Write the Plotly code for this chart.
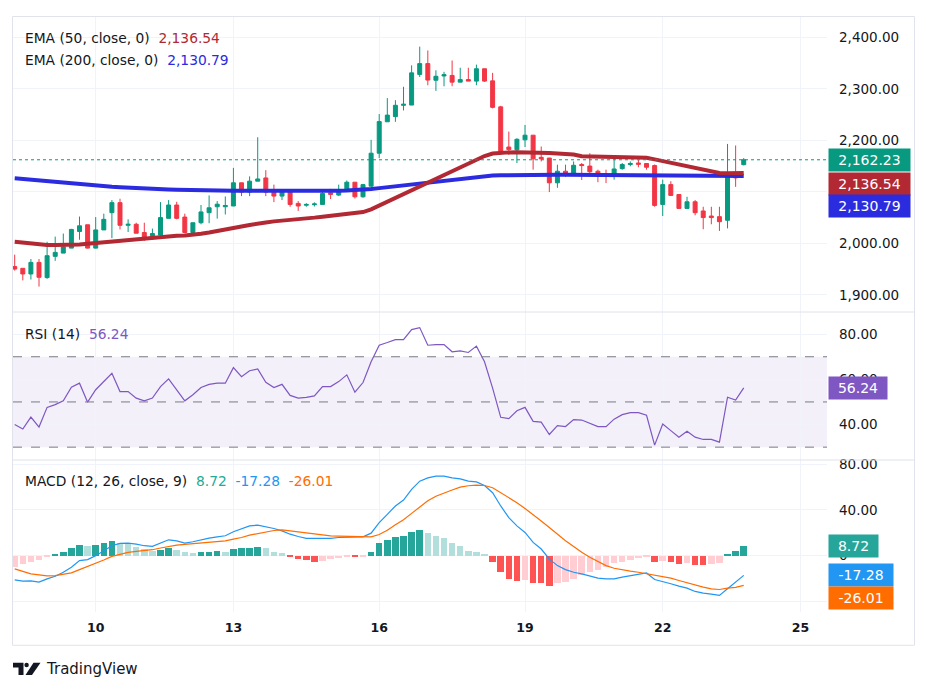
import plotly.graph_objects as go
from plotly.subplots import make_subplots

# ---------------- data ----------------
opens = [1955, 1951.5, 1940.5, 1963, 1933.5, 1974.7, 1981, 1990.7, 2023, 2036,
         1990.7, 2026, 2059.5, 2079, 2035, 2037, 2021, 2011, 2016, 2048.5,
         2074.4, 2051, 2021, 2040, 2059.5, 2071, 2071, 2072.5, 2117.5, 2099.5,
         2120.7, 2127, 2101, 2091.7, 2099.5, 2077.5, 2074, 2075, 2075.5, 2098,
         2093.7, 2102.5, 2118.7, 2090.4, 2111, 2175, 2236, 2246, 2268, 2268.5,
         2328, 2349, 2316.7, 2325, 2326, 2313, 2318, 2315, 2339, 2315.5,
         2265, 2187, 2181.6, 2201, 2210, 2167, 2165.6, 2117.5, 2140, 2135.5,
         2153, 2150, 2140, 2134, 2130, 2145, 2153, 2156, 2155, 2151,
         2075.5, 2114, 2094.8, 2067.8, 2080.7, 2062.8, 2053, 2051.8, 2044.7, 2135.4,
         2152.7]
highs = [1978, 1951.5, 1969.5, 1969.5, 2003, 2013, 2019, 2028, 2052, 2036,
         2051, 2057.6, 2084, 2086.5, 2046.6, 2040, 2040, 2028.6, 2080, 2084,
         2080.7, 2057.6, 2040, 2074.4, 2093, 2082, 2091, 2146.5, 2117.5, 2130,
         2206, 2142, 2114, 2104.5, 2104.5, 2082, 2078, 2079.5, 2099.5, 2105.8,
         2114, 2122, 2118.7, 2115.5, 2201, 2251, 2282, 2278, 2304, 2345.6,
         2382, 2374.5, 2336, 2333, 2355, 2341, 2341, 2347, 2339, 2331,
         2267, 2217, 2204, 2229.9, 2210, 2188, 2165.6, 2152.7, 2152.7, 2159,
         2156, 2175, 2143, 2143, 2165.6, 2156, 2159, 2162, 2155, 2153,
         2123.7, 2120.6, 2094.8, 2090.4, 2084, 2071, 2071, 2071, 2193, 2190,
         2165.6]
lows = [1947, 1928, 1929.7, 1916, 1931, 1966, 1981, 1990.7, 2007, 1990,
        1990, 2026, 2010, 2027, 2022, 2019.6, 2005, 2008, 2014.6, 2048.5,
        2046.6, 2019.6, 2019.6, 2037, 2039, 2048, 2056, 2072.5, 2091.7, 2091.7,
        2120.7, 2091.7, 2080, 2084, 2071, 2063, 2071, 2071.5, 2075.5, 2086,
        2091.7, 2101, 2087, 2088.5, 2109.7, 2165.6, 2236, 2236, 2258, 2268.5,
        2323, 2307, 2296, 2305, 2305, 2313, 2315, 2307, 2313.6, 2262,
        2172, 2172, 2156, 2187, 2143, 2159, 2099.5, 2107.8, 2129, 2133.4,
        2123, 2130.7, 2118.7, 2117, 2123.7, 2143, 2149.6, 2147.7, 2143, 2071,
        2053, 2093, 2067.8, 2067.8, 2054.4, 2027.3, 2037, 2024, 2029, 2109.7,
        2151.5]
closes = [1950, 1940.5, 1963, 1934, 1976, 1982.4, 1993, 2027, 2034, 1990.7,
          2026, 2046.6, 2079, 2035, 2037, 2019.6, 2011, 2019, 2050, 2074.4,
          2048.5, 2021, 2040, 2061, 2069, 2076, 2073.5, 2117.5, 2099.5, 2120.7,
          2125, 2099.5, 2091.7, 2099.5, 2075.5, 2072.5, 2075.5, 2076.5, 2096.8, 2095,
          2104.5, 2118.7, 2090.4, 2114, 2175, 2236.4, 2249, 2268, 2270, 2331,
          2349, 2317, 2324.4, 2327.5, 2313, 2318, 2315, 2339, 2315, 2264,
          2178.5, 2182, 2202, 2210, 2164, 2164, 2117.5, 2140, 2135.5, 2151.5,
          2151, 2139, 2132, 2132, 2144.4, 2153, 2155, 2153.5, 2147.7, 2073.6,
          2114, 2093, 2067.8, 2080.7, 2059.5, 2050, 2050, 2042, 2133.4, 2127,
          2162.23]
ema50 = [2003, 2001.3, 1999.7, 1998.2, 1996.8, 1996.6, 1996.5, 1997, 1997.8, 1999.2,
         2000.7, 2002.6, 2004.5, 2006, 2007.4, 2008.8, 2010.3, 2011.5, 2012.7, 2013.7,
         2014.6, 2015.3, 2016, 2018.5, 2021, 2023.4, 2025.8, 2029.1, 2032.5, 2035.6,
         2038.7, 2040.6, 2042.6, 2043.8, 2045, 2046.5, 2048, 2049.9, 2051.8, 2053.2,
         2054.7, 2056.6, 2058.6, 2060.7, 2066, 2073.4, 2080.7, 2088.5, 2095.8, 2103.1,
         2110.5, 2117.8, 2125.3, 2132.6, 2140, 2147.1, 2154.8, 2162.1, 2169.5, 2174.3,
         2176.2, 2176.6, 2176.8, 2176.8, 2176.6, 2176.2, 2175.6, 2174.5, 2173.5, 2172.6,
         2169, 2168.5, 2168, 2167.6, 2167.3, 2167, 2166.8, 2166.5, 2166, 2163,
         2159.8, 2156.3, 2153, 2149.5, 2146, 2142.3, 2139, 2136.5, 2136, 2136.3,
         2136.54]
ema200 = [2126.5, 2125, 2123.5, 2122, 2120.5, 2119, 2117.5, 2116, 2114.6, 2113.3,
          2112, 2111, 2110, 2109, 2108, 2107.1, 2106.3, 2105.6, 2105, 2104.4,
          2103.9, 2103.4, 2103, 2102.7, 2102.4, 2102.2, 2102.1, 2102, 2101.9, 2101.8,
          2101.7, 2101.6, 2101.6, 2101.6, 2101.6, 2101.6, 2101.7, 2101.8, 2101.9, 2102.1,
          2102.3, 2102.7, 2103.3, 2104.2, 2105.5, 2107.2, 2109, 2110.8, 2112.6, 2114.4,
          2116.2, 2118, 2120, 2122, 2124, 2126, 2127.7, 2129.2, 2130.5, 2131.5,
          2132.2, 2132.6, 2132.9, 2133.1, 2133.3, 2133.4, 2133.4, 2133.3, 2133.3, 2133.2,
          2133.2, 2133.1, 2133, 2132.9, 2132.9, 2132.8, 2132.8, 2132.7, 2132.6, 2132.3,
          2132.1, 2131.9, 2131.6, 2131.4, 2131.1, 2130.8, 2130.5, 2130.3, 2130.5, 2130.6,
          2130.79]
rsi = [40.0, 38.0, 43.3, 38.9, 47.6, 48.8, 50.5, 56.5, 58.3, 49.9,
       55.4, 59.0, 62.7, 54.6, 54.6, 51.7, 50.5, 51.7, 56.8, 60.2,
       55.4, 50.5, 53.2, 56.4, 57.8, 58.3, 58.3, 65.2, 61.2, 63.8,
       64.6, 58.7, 56.4, 57.8, 52.9, 51.7, 52.0, 52.7, 56.8, 56.8,
       59.0, 62.0, 54.3, 58.6, 67.8, 75.1, 76.3, 77.6, 77.6, 82.0,
       82.9, 75.1, 75.4, 75.4, 72.2, 72.6, 71.9, 74.7, 67.8, 56.1,
       43.2, 42.6, 46.1, 47.6, 41.4, 41.1, 35.6, 39.5, 39.1, 42.2,
       42.0, 40.4, 39.1, 39.1, 42.4, 44.4, 45.3, 45.3, 44.1, 30.9,
       40.2, 37.3, 34.4, 37.0, 34.4, 33.4, 33.4, 32.2, 52.1, 50.8,
       56.24]
macd = [-21.2, -22.3, -22.0, -23.2, -20.3, -18.0, -14.5, -10.1, -4.3, -3.5,
        0.0, 4.3, 8.7, 10.7, 11.0, 10.1, 8.7, 8.1, 10.7, 13.9,
        13.0, 11.0, 12.2, 13.9, 15.4, 16.5, 17.4, 20.9, 23.2, 26.1,
        26.7, 25.5, 23.8, 21.7, 18.8, 16.8, 15.1, 15.1, 15.1, 15.1,
        15.9, 16.2, 16.5, 16.5, 19.7, 29.0, 36.2, 43.5, 48.7, 58.0,
        65.2, 68.1, 69.6, 69.6, 68.1, 67.2, 65.2, 64.6, 61.4, 55.1,
        43.5, 33.3, 26.1, 20.3, 11.6, 5.8, -2.9, -8.7, -12.2, -14.5,
        -15.9, -18.0, -19.7, -20.3, -20.3, -18.8, -17.4, -15.9, -15.1, -20.9,
        -22.6, -24.6, -26.7, -28.4, -31.3, -32.8, -33.6, -34.8, -29.0, -23.2,
        -17.28]
signal = [-11.6, -13.9, -15.9, -16.8, -17.7, -17.4, -16.5, -15.1, -12.2, -9.6,
          -6.4, -3.8, -0.6, 1.4, 2.9, 3.8, 4.6, 5.2, 6.7, 8.1,
          9.3, 9.9, 10.4, 11.0, 11.6, 12.2, 13.0, 14.5, 15.9, 18.0,
          19.4, 20.9, 22.0, 22.6, 21.7, 20.9, 19.7, 18.8, 18.0, 17.4,
          17.1, 16.8, 16.8, 16.8, 16.5, 18.5, 22.3, 27.0, 31.5, 37.0,
          42.5, 48.0, 52.0, 55.0, 57.5, 60.0, 61.2, 61.7, 61.4, 59.4,
          55.1, 50.7, 46.4, 41.2, 36.2, 30.4, 24.6, 18.8, 13.0, 8.1,
          2.9, -1.4, -5.2, -8.7, -11.0, -12.5, -13.6, -14.5, -15.9, -16.8,
          -18.3, -19.7, -21.7, -23.8, -25.5, -27.5, -29.0, -29.6, -28.4, -27.8,
          -26.01]
hist = [-9.6, -7.2, -5.2, -3.5, -1.4, 0.6, 2.9, 6.4, 9.6, 8.1,
        9.3, 10.7, 13.0, 11.0, 10.1, 7.2, 5.8, 4.3, 4.9, 6.4,
        4.9, 2.9, 2.0, 2.9, 3.5, 3.7, 3.5, 6.1, 6.4, 7.0,
        7.8, 6.4, 3.5, 2.6, -0.6, -3.2, -3.5, -5.2, -4.3, -2.9,
        -2.0, -1.2, -1.4, -0.9, 3.5, 10.7, 13.9, 16.5, 17.4, 20.9,
        22.6, 19.7, 17.4, 15.1, 11.0, 8.7, 4.3, 2.9, 0.9, -5.8,
        -14.5, -20.3, -22.6, -20.9, -24.1, -24.3, -26.7, -24.1, -23.2, -20.3,
        -16.5, -14.5, -12.2, -10.1, -6.4, -5.8, -3.8, -2.3, -1.4, -5.8,
        -4.6, -5.8, -7.2, -6.4, -7.8, -7.9, -7.2, -6.4, 0.9, 4.3,
        8.72]

day_tick_pos = [10, 27, 45, 63, 80, 97]          # bar index where each day starts
day_tick_labels = ["10", "13", "16", "19", "22", "25"]
price_ticks = [1900, 2000, 2100, 2200, 2300, 2400]
price_tick_labels = ["1,900.00", "2,000.00", "", "2,200.00", "2,300.00", "2,400.00"]  # 2,100 hidden under value boxes
rsi_ticks = [40, 60, 80]
rsi_tick_labels = ["40.00", "60.00", "80.00"]
macd_ticks = [-40, 0, 40, 80]
macd_tick_labels = ["", "0", "40.00", "80.00"]  # -40 hidden under value box

idx = list(range(len(closes)))

# ---------------- styling ----------------
FONT = "DejaVu Sans"
TXT = "#131722"
GRID = "#F0F3FA"
UP, DOWN = "#089981", "#F23645"
EMA50_C, EMA200_C = "#B22833", "#2B2BE0"
RSI_C = "#7E57C2"
MACD_C, SIG_C = "#2196F3", "#FF6D00"
HIST_C = {"up_grow": "#26A69A", "up_fall": "#B2DFDB", "dn_rise": "#FFCDD2", "dn_fall": "#FF5252"}

# page has an 8px body margin: the figure is sized so the plot lands at page px (13..827, 13..612)
BODY = 8
W, H = 927 - BODY, 693 - BODY
ML, MR, MT, MB = 13 - BODY, 100, 13 - BODY, 81
PW, PH = W - ML - MR, H - MT - MB


def pxx(x):  # page pixel -> paper x
    return (x - BODY - ML) / PW


def pxy(y):  # page pixel -> paper y
    return 1 - (y - BODY - MT) / PH


fig = make_subplots(rows=3, cols=1, shared_xaxes=True, vertical_spacing=0)

# price pane
fig.add_trace(go.Candlestick(
    x=idx, open=opens, high=highs, low=lows, close=closes,
    increasing=dict(line=dict(color=UP, width=1), fillcolor=UP),
    decreasing=dict(line=dict(color=DOWN, width=1), fillcolor=DOWN),
    whiskerwidth=0, hoverinfo="skip", showlegend=False), row=1, col=1)
fig.add_trace(go.Scatter(x=idx, y=ema200, mode="lines",
                         line=dict(color=EMA200_C, width=4), hoverinfo="skip"), row=1, col=1)
fig.add_trace(go.Scatter(x=idx, y=ema50, mode="lines",
                         line=dict(color=EMA50_C, width=4), hoverinfo="skip"), row=1, col=1)

# RSI pane
fig.add_trace(go.Scatter(x=idx, y=rsi, mode="lines",
                         line=dict(color=RSI_C, width=1.2), hoverinfo="skip"), row=2, col=1)

# MACD pane
hcolors = []
for i, v in enumerate(hist):
    prev = hist[i - 1] if i > 0 else v
    if v >= 0:
        hcolors.append(HIST_C["up_grow"] if v > prev else HIST_C["up_fall"])
    else:
        hcolors.append(HIST_C["dn_rise"] if v >= prev else HIST_C["dn_fall"])
fig.add_trace(go.Bar(x=idx, y=hist, marker=dict(color=hcolors, line=dict(width=0)),
                     width=0.8, hoverinfo="skip"), row=3, col=1)
fig.add_trace(go.Scatter(x=idx, y=macd, mode="lines",
                         line=dict(color=MACD_C, width=1.2), hoverinfo="skip"), row=3, col=1)
fig.add_trace(go.Scatter(x=idx, y=signal, mode="lines",
                         line=dict(color=SIG_C, width=1.2), hoverinfo="skip"), row=3, col=1)

xr = [-0.21, 100.28]
for k, name in enumerate(["xaxis", "xaxis2", "xaxis3"]):
    fig.layout[name].update(
        range=xr, tickmode="array", tickvals=day_tick_pos, ticktext=day_tick_labels,
        showgrid=True, gridcolor=GRID, gridwidth=1, zeroline=False, showline=False,
        ticks="", showticklabels=(k == 2), rangeslider=dict(visible=False),
        tickfont=dict(family=FONT, size=12.5, color=TXT, weight="bold"),
        ticklabelstandoff=6)

yfont = dict(family=FONT, size=13.5, color=TXT)
fig.layout.yaxis.update(domain=[pxy(310), 1], range=[1866.6, 2439.5], side="right",
                        tickmode="array", tickvals=price_ticks, ticktext=price_tick_labels,
                        showgrid=True, gridcolor=GRID, zeroline=False, showline=False,
                        ticks="", tickfont=yfont, ticklabelstandoff=11)
fig.layout.yaxis2.update(domain=[pxy(459), pxy(310)], range=[24.3, 89.8], side="right",
                         tickmode="array", tickvals=rsi_ticks, ticktext=rsi_tick_labels,
                         showgrid=True, gridcolor=GRID, zeroline=False, showline=False,
                         ticks="", tickfont=yfont, ticklabelstandoff=11)
fig.layout.yaxis3.update(domain=[0, pxy(459)], range=[-49.3, 83.7], side="right",
                         tickmode="array", tickvals=macd_ticks, ticktext=macd_tick_labels,
                         showgrid=True, gridcolor=GRID, zeroline=False, showline=False,
                         ticks="", tickfont=yfont, ticklabelstandoff=11)

shapes = []
# RSI band and levels
shapes.append(dict(type="rect", xref="paper", yref="y2", x0=0, x1=1, y0=30, y1=70,
                   fillcolor="rgba(126,87,194,0.09)", line=dict(width=0), layer="below"))
for lvl in (70, 50, 30):
    shapes.append(dict(type="line", xref="paper", yref="y2", x0=0, x1=1, y0=lvl, y1=lvl,
                       line=dict(color="#787B86", width=1, dash="dash")))
# last price dotted line
shapes.append(dict(type="line", xref="paper", yref="y", x0=0, x1=1,
                   y0=closes[-1], y1=closes[-1], line=dict(color=UP, width=1, dash="dot")))
# frame and pane separators
shapes.append(dict(type="rect", xref="paper", yref="paper", x0=pxx(12.5), x1=pxx(914.5),
                   y0=pxy(645.5), y1=pxy(12.5), line=dict(color="#E0E3EB", width=1)))
for sy in (310, 459):
    shapes.append(dict(type="line", xref="paper", yref="paper", x0=pxx(12.5), x1=pxx(914.5),
                       y0=pxy(sy), y1=pxy(sy), line=dict(color="#E0E3EB", width=1)))


# TradingView logo
def ppath(pts):
    return "M " + " L ".join(f"{pxx(a):.5f},{pxy(b):.5f}" for a, b in pts) + " Z"


shapes.append(dict(type="path", xref="paper", yref="paper",
                   path=ppath([(13, 663), (23.5, 663), (23.5, 675.5), (18.5, 675.5), (18.5, 667.8), (13, 667.8)]),
                   fillcolor=TXT, line=dict(width=0)))
shapes.append(dict(type="circle", xref="paper", yref="paper", x0=pxx(24.4), x1=pxx(28.8),
                   y0=pxy(667.5), y1=pxy(663.1), fillcolor=TXT, line=dict(width=0)))
shapes.append(dict(type="path", xref="paper", yref="paper",
                   path=ppath([(33.5, 663), (40.5, 663), (32, 675.5), (25.5, 675.5)]),
                   fillcolor=TXT, line=dict(width=0)))

ann = []
lfont = dict(family=FONT, size=13.8, color=TXT)


def legend(text, y):
    ann.append(dict(text=text, xref="paper", yref="paper", x=pxx(22.5), y=pxy(y),
                    xanchor="left", yanchor="middle", showarrow=False, font=lfont))


sp = "&nbsp;&nbsp;"
legend(f"EMA (50, close, 0){sp}<span style='color:{EMA50_C}'>{ema50[-1]:,.2f}</span>", 34)
legend(f"EMA (200, close, 0){sp}<span style='color:{EMA200_C}'>{ema200[-1]:,.2f}</span>", 56)
legend(f"RSI (14){sp}<span style='color:{RSI_C}'>{rsi[-1]:.2f}</span>", 332.5)
legend(f"MACD (12, 26, close, 9){sp}<span style='color:#22AB94'>{hist[-1]:.2f}</span>{sp}"
       f"<span style='color:{MACD_C}'>{macd[-1]:.2f}</span>{sp}"
       f"<span style='color:{SIG_C}'>{signal[-1]:.2f}</span>", 480.5)


def valbox(text, yref, yval, color, width, yshift=0):
    ann.append(dict(text=text, xref="paper", yref=yref, x=pxx(828), y=yval, yshift=yshift,
                    xanchor="left", yanchor="middle", showarrow=False,
                    bgcolor=color, width=width, height=22, borderpad=0, align="center",
                    font=dict(family=FONT, size=14, color="white")))


valbox(f"{closes[-1]:,.2f}", "y", closes[-1], UP, 81)
valbox(f"{ema50[-1]:,.2f}", "y", ema50[-1], EMA50_C, 81, yshift=-10.7)
valbox(f"{ema200[-1]:,.2f}", "y", ema200[-1], EMA200_C, 81, yshift=-30.1)
valbox(f"{rsi[-1]:.2f}", "y2", rsi[-1], RSI_C, 58)
valbox(f"{hist[-1]:.2f}", "y3", hist[-1], "#26A69A", 49)
valbox(f"{macd[-1]:.2f}", "y3", macd[-1], MACD_C, 64)
valbox(f"{signal[-1]:.2f}", "y3", signal[-1], SIG_C, 64, yshift=-12.5)

ann.append(dict(text="TradingView", xref="paper", yref="paper", x=pxx(44), y=pxy(669),
                xanchor="left", yanchor="middle", showarrow=False,
                font=dict(family=FONT, size=15, color=TXT)))

fig.update_layout(width=W, height=H, margin=dict(l=ML, r=MR, t=MT, b=MB),
                  paper_bgcolor="white", plot_bgcolor="white", showlegend=False,
                  shapes=shapes, annotations=ann, bargap=0, hovermode=False)

fig.write_html("out.html")
